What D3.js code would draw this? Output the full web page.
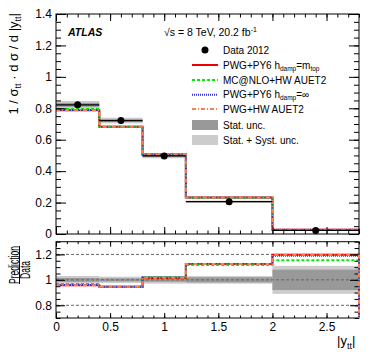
<!DOCTYPE html>
<html><head><meta charset="utf-8">
<script src="https://cdn.jsdelivr.net/npm/d3@7"></script>
<style>
body{margin:0;background:#fff;}
text{font-family:"Liberation Sans",Arial,Helvetica,sans-serif;}
</style></head>
<body><svg id="c" width="374" height="360"></svg>
<script>
// ---- data ----
const binEdges = [0, 0.4, 0.8, 1.2, 2.0, 2.8];
const dataVals = [0.822, 0.722, 0.497, 0.206, 0.0225];
const statRel = [0.015, 0.012, 0.015, 0.02, 0.08];
const totRel = [0.03, 0.025, 0.03, 0.03, 0.11];
const predRed = [0.787, 0.683, 0.505, 0.232, 0.027];
const predGreen = [0.796, 0.682, 0.507, 0.230, 0.026];
const predBlue = [0.789, 0.683, 0.507, 0.232, 0.027];
const predOrange = [0.787, 0.683, 0.506, 0.232, 0.027];
const ratioRed = [0.958, 0.945, 1.015, 1.125, 1.197];
const ratioGreen = [0.968, 0.945, 1.02, 1.117, 1.155];
const ratioBlue = [0.96, 0.945, 1.02, 1.125, 1.19];
const ratioOrange = [0.958, 0.945, 1.017, 1.125, 1.197];
const topYTicks = [0, 0.2, 0.4, 0.6, 0.8, 1, 1.2, 1.4];
const ratioYTicks = [0.8, 1, 1.2];
const xTicks = [0, 0.5, 1, 1.5, 2, 2.5];
const legendLabels = ["Data 2012", "PWG+PY6 h", "MC@NLO+HW AUET2", "PWG+PY6 h", "PWG+HW AUET2", "Stat. unc.", "Stat. + Syst. unc."];

const svg = d3.select("#c");
const L = 56, R = 359, T1 = 14, B1 = 234, T2 = 241.7, B2 = 318;
const x = d3.scaleLinear([0, 2.8], [L, R]);
const yT = d3.scaleLinear([0, 1.4], [B1, T1]);
const yR = d3.scaleLinear([0.7, 1.3], [B2, T2]);

const series = [
  {top: predRed, rat: ratioRed, color: "#ee0000", dash: null},
  {top: predGreen, rat: ratioGreen, color: "#00ee00", dash: "3,2"},
  {top: predBlue, rat: ratioBlue, color: "#3333cc", dash: "1,1"},
  {top: predOrange, rat: ratioOrange, color: "#ff7f50", dash: "4,2,1,2"}
];
const bins = dataVals.map((d, i) => ({x0: binEdges[i], x1: binEdges[i + 1], i}));

const defs = svg.append("defs");
defs.append("clipPath").attr("id", "cp1").append("rect").attr("x", L).attr("y", T1).attr("width", R - L + 1).attr("height", B1 - T1);
defs.append("clipPath").attr("id", "cp2").append("rect").attr("x", L).attr("y", T2).attr("width", R - L + 1).attr("height", B2 - T2);

function stepPath(vals, y) {
  let p = "M" + x(binEdges[0]) + "," + y(vals[0]);
  vals.forEach((v, i) => { p += "L" + x(binEdges[i]) + "," + y(v) + "L" + x(binEdges[i + 1]) + "," + y(v); });
  p += "L" + x(binEdges[binEdges.length - 1]) + "," + (y.range()[0] + 5);
  return p;
}

// ---- top panel ----
const g1 = svg.append("g").attr("clip-path", "url(#cp1)");
g1.selectAll(".tot").data(bins).join("rect")
  .attr("x", d => x(d.x0)).attr("width", d => x(d.x1) - x(d.x0))
  .attr("y", d => yT(dataVals[d.i] * (1 + totRel[d.i])))
  .attr("height", d => yT(dataVals[d.i] * (1 - totRel[d.i])) - yT(dataVals[d.i] * (1 + totRel[d.i])))
  .attr("fill", "#cccccc");
g1.selectAll(".st").data(bins).join("rect")
  .attr("x", d => x(d.x0)).attr("width", d => x(d.x1) - x(d.x0))
  .attr("y", d => yT(dataVals[d.i] * (1 + statRel[d.i])))
  .attr("height", d => yT(dataVals[d.i] * (1 - statRel[d.i])) - yT(dataVals[d.i] * (1 + statRel[d.i])))
  .attr("fill", "#999999");
series.forEach(s => {
  g1.append("path").attr("d", stepPath(s.top, yT)).attr("fill", "none")
    .attr("stroke", s.color).attr("stroke-width", 2).attr("stroke-dasharray", s.dash);
});
g1.selectAll(".xe").data(bins).join("line")
  .attr("x1", d => x(d.x0)).attr("x2", d => x(d.x1))
  .attr("y1", d => yT(dataVals[d.i])).attr("y2", d => yT(dataVals[d.i]))
  .attr("stroke", "#000").attr("stroke-width", 1.3);
g1.selectAll(".pt").data(bins).join("circle")
  .attr("cx", d => x((d.x0 + d.x1) / 2)).attr("cy", d => yT(dataVals[d.i])).attr("r", 3.5).attr("fill", "#000");

// ---- ratio panel ----
const g2 = svg.append("g").attr("clip-path", "url(#cp2)");
g2.selectAll(".tot").data(bins).join("rect")
  .attr("x", d => x(d.x0)).attr("width", d => x(d.x1) - x(d.x0))
  .attr("y", d => yR(1 + totRel[d.i])).attr("height", d => yR(1 - totRel[d.i]) - yR(1 + totRel[d.i]))
  .attr("fill", "#cccccc");
g2.selectAll(".st").data(bins).join("rect")
  .attr("x", d => x(d.x0)).attr("width", d => x(d.x1) - x(d.x0))
  .attr("y", d => yR(1 + statRel[d.i])).attr("height", d => yR(1 - statRel[d.i]) - yR(1 + statRel[d.i]))
  .attr("fill", "#999999");
g2.selectAll(".ref").data(ratioYTicks).join("line")
  .attr("x1", L).attr("x2", R).attr("y1", d => yR(d)).attr("y2", d => yR(d))
  .attr("stroke", "#666").attr("stroke-width", 1).attr("stroke-dasharray", "3,2");
series.forEach(s => {
  g2.append("path").attr("d", stepPath(s.rat, yR)).attr("fill", "none")
    .attr("stroke", s.color).attr("stroke-width", 2).attr("stroke-dasharray", s.dash);
});

// ---- axes ----
function range(a, b, st) { const r = []; for (let v = a; v <= b + 1e-9; v += st) r.push(+v.toFixed(3)); return r; }
function frame(yS, top, bot, yMaj, yMin, xMajLen, xMinLen, yMajLen, yMinLen, labelsX) {
  const fmt = d => d3.format("~g")(d);
  svg.append("g").attr("transform", `translate(${L},0)`).call(d3.axisLeft(yS).tickValues(yMaj).tickSize(-yMajLen).tickPadding(4).tickFormat(fmt));
  svg.append("g").attr("transform", `translate(${L},0)`).call(d3.axisLeft(yS).tickValues(yMin).tickSize(-yMinLen).tickFormat(""));
  svg.append("g").attr("transform", `translate(${R},0)`).call(d3.axisRight(yS).tickValues(yMaj).tickSize(-yMajLen).tickFormat(""));
  svg.append("g").attr("transform", `translate(${R},0)`).call(d3.axisRight(yS).tickValues(yMin).tickSize(-yMinLen).tickFormat(""));
  svg.append("g").attr("transform", `translate(0,${bot})`).call(d3.axisBottom(x).tickValues(xTicks).tickSize(-xMajLen).tickPadding(4).tickFormat(labelsX ? fmt : ""));
  svg.append("g").attr("transform", `translate(0,${bot})`).call(d3.axisBottom(x).tickValues(range(0, 2.8, 0.1)).tickSize(-xMinLen).tickFormat(""));
  svg.append("g").attr("transform", `translate(0,${top})`).call(d3.axisTop(x).tickValues(xTicks).tickSize(-xMajLen).tickFormat(""));
  svg.append("g").attr("transform", `translate(0,${top})`).call(d3.axisTop(x).tickValues(range(0, 2.8, 0.1)).tickSize(-xMinLen).tickFormat(""));
  svg.append("rect").attr("x", L).attr("y", top).attr("width", R - L).attr("height", bot - top)
    .attr("fill", "none").attr("stroke", "#000").attr("stroke-width", 1);
}
frame(yT, T1, B1, topYTicks, range(0, 1.4, 0.05), 7, 3.5, 10, 5, false);
frame(yR, T2, B2, ratioYTicks, range(0.7, 1.3, 0.05), 5, 2.5, 9, 4.5, true);
svg.selectAll(".domain").remove();
svg.selectAll(".tick line").attr("stroke", "#000");
svg.selectAll(".tick text").attr("font-size", 12).attr("fill", "#000").attr("font-family", "Liberation Sans, Arial, sans-serif");

// ratio panel vertical lines at right edge (drawn on top of frame)
series.forEach(s => {
  svg.append("line").attr("x1", R).attr("x2", R).attr("y1", yR(s.rat[4])).attr("y2", B2)
    .attr("stroke", s.color).attr("stroke-width", 2).attr("stroke-dasharray", s.dash);
});

// ---- titles ----
const yt = svg.append("text").attr("transform", "translate(18,13) rotate(-90)").attr("text-anchor", "end").attr("font-size", 13);
yt.append("tspan").text("1 / σ");
yt.append("tspan").attr("font-size", 9).attr("dy", 3).text("tt");
yt.append("tspan").attr("dy", -3).text(" · d σ / d |y");
yt.append("tspan").attr("font-size", 9).attr("dy", 3).text("tt");
yt.append("tspan").attr("dy", -3).text("|");

svg.append("text").attr("transform", "translate(18.5,265) rotate(-90)").attr("text-anchor", "middle").attr("font-size", 14)
  .attr("textLength", 38).attr("lengthAdjust", "spacingAndGlyphs").text("Prediction");
svg.append("line").attr("x1", 19.5).attr("x2", 19.5).attr("y1", 246).attr("y2", 284).attr("stroke", "#000").attr("stroke-width", 1);
svg.append("text").attr("transform", "translate(30,270) rotate(-90)").attr("text-anchor", "middle").attr("font-size", 14)
  .attr("textLength", 18).attr("lengthAdjust", "spacingAndGlyphs").text("Data");

const xt = svg.append("text").attr("x", 337).attr("y", 345).attr("font-size", 13);
xt.append("tspan").text("|y");
xt.append("tspan").attr("font-size", 9).attr("dy", 4).text("tt");
xt.append("tspan").attr("dy", -4).text("|");

svg.append("text").attr("x", 68).attr("y", 36).attr("font-size", 10.5).attr("font-weight", "bold").attr("font-style", "italic").text("ATLAS");
const en = svg.append("text").attr("x", 164).attr("y", 36).attr("font-size", 10.5);
en.append("tspan").text("√s = 8 TeV, 20.2 fb");
en.append("tspan").attr("font-size", 7).attr("dy", -4).text("-1");

// ---- legend ----
const rows = [50, 65, 80, 94.7, 109, 125, 140];
const lx0 = 192, lx1 = 218, tx = 223;
svg.append("circle").attr("cx", 205).attr("cy", rows[0]).attr("r", 3.5).attr("fill", "#000");
series.forEach((s, i) => {
  svg.append("line").attr("x1", lx0).attr("x2", lx1).attr("y1", rows[i + 1]).attr("y2", rows[i + 1])
    .attr("stroke", s.color).attr("stroke-width", 2).attr("stroke-dasharray", s.dash);
});
svg.append("rect").attr("x", lx0).attr("y", rows[5] - 5).attr("width", lx1 - lx0).attr("height", 10).attr("fill", "#999");
svg.append("rect").attr("x", lx0).attr("y", rows[6] - 5).attr("width", lx1 - lx0).attr("height", 10).attr("fill", "#ccc");
legendLabels.forEach((lab, i) => {
  const t = svg.append("text").attr("x", tx).attr("y", rows[i] + 3.6).attr("font-size", 10).text(lab);
  if (i === 1) {
    t.append("tspan").attr("font-size", 6.5).attr("dy", 2).text("damp");
    t.append("tspan").attr("dy", -2).text("=m");
    t.append("tspan").attr("font-size", 6.5).attr("dy", 2).text("top");
  }
  if (i === 3) {
    t.append("tspan").attr("font-size", 6.5).attr("dy", 2).text("damp");
    t.append("tspan").attr("dy", -2).text("=∞");
  }
});
</script></body></html>
